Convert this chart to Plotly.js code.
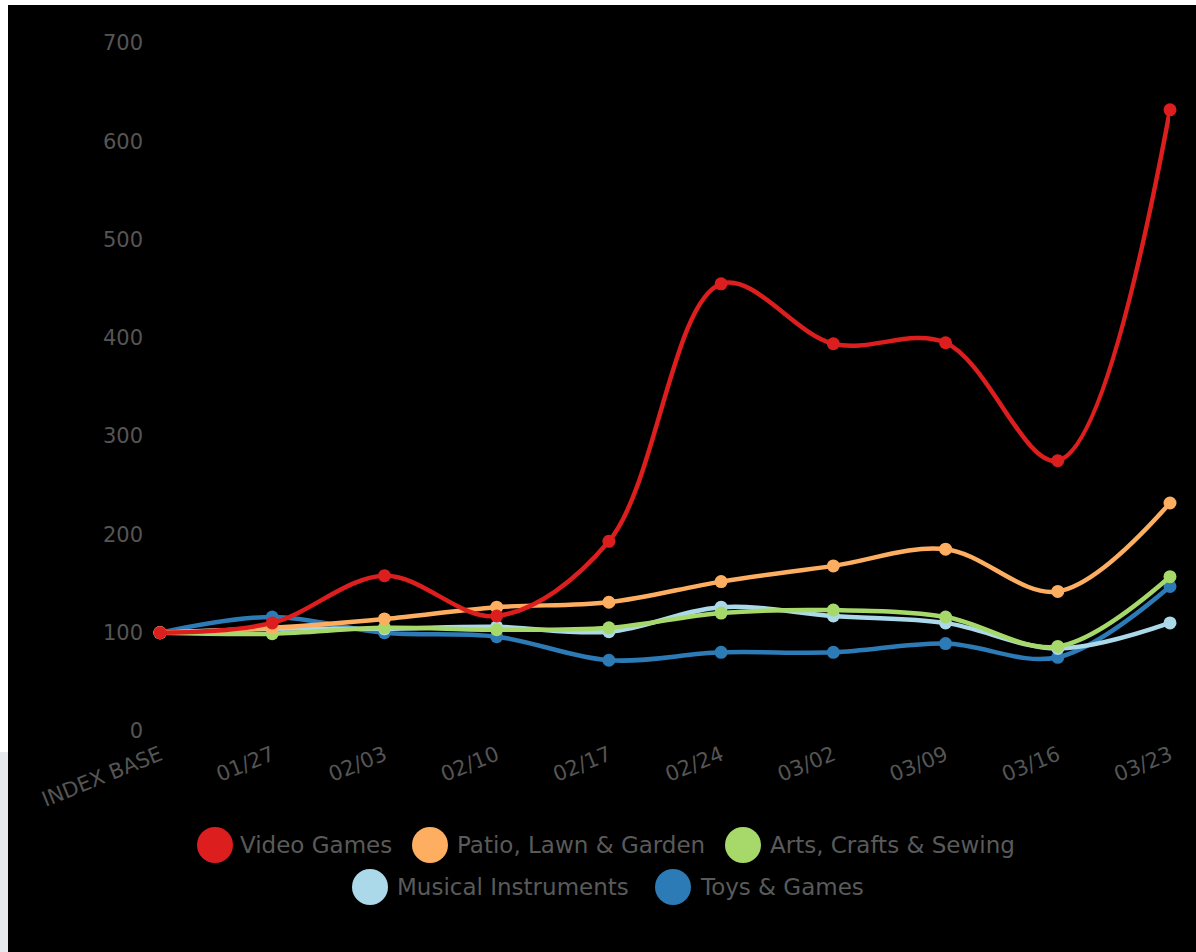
<!DOCTYPE html>
<html><head><meta charset="utf-8">
<script src="https://cdn.plot.ly/plotly-3.0.1.min.js"></script>
<style>html,body{margin:0;padding:0;background:#000;}#chart{width:1196px;height:952px;}</style>
</head><body><div id="chart"></div>
<script>
// ---- data ----
const categories = ["INDEX BASE","01/27","02/03","02/10","02/17","02/24","03/02","03/09","03/16","03/23"];
const videoGames = [100,110,158,117,193,455,394,395,275,632];
const patioLawnGarden = [100,105,114,126,131,152,168,185,142,232];
const artsCraftsSewing = [100,99,105,103,105,120,123,116,86,157];
const musicalInstruments = [100,104,104,106,101,126,117,110,84,110];
const toysGames = [100,116,100,96,72,80,80,89,75,147];
const seriesNames = ["Video Games","Patio, Lawn & Garden","Arts, Crafts & Sewing","Musical Instruments","Toys & Games"];
const yTickValues = [0,100,200,300,400,500,600,700];

// ---- styling ----
const colors = ["#dd1e1e","#fdae61","#a6d96a","#abd9e9","#2c7bb6"];
const W = 1196, H = 952;
const M = {l:160, r:26, t:43, b:221};
const plotW = W - M.l - M.r, plotH = H - M.t - M.b;
const px = x => (x - M.l) / plotW;
const py = y => (H - M.b - y) / plotH;

const seriesValues = [videoGames, patioLawnGarden, artsCraftsSewing, musicalInstruments, toysGames];
const drawOrder = [4,3,2,1,0];
const traces = drawOrder.map(i => ({
  type:'scatter', mode:'lines+markers', name: seriesNames[i],
  x: categories, y: seriesValues[i],
  line:{color:colors[i], width:4.5, shape:'spline', smoothing:1},
  marker:{color:colors[i], size:13},
  cliponaxis:false, showlegend:false
}));

// custom legend (large circle swatches)
const legendPos = [
  {cx:215, tx:238, y:845},
  {cx:430, tx:455, y:845},
  {cx:743, tx:768, y:845},
  {cx:370, tx:395, y:887},
  {cx:673, tx:698, y:887}
];
const shapes = [
  {type:'rect', xref:'paper', yref:'paper', x0:px(0), x1:px(8), y0:py(0), y1:py(752), fillcolor:'#ffffff', line:{width:0}, layer:'above'},
  {type:'rect', xref:'paper', yref:'paper', x0:px(0), x1:px(8), y0:py(752), y1:py(H), fillcolor:'#e8e8ef', line:{width:0}, layer:'above'},
  {type:'rect', xref:'paper', yref:'paper', x0:px(0), x1:px(W), y0:py(0), y1:py(5), fillcolor:'#ffffff', line:{width:0}, layer:'above'}
];
const annotations = [];
legendPos.forEach((p,i) => {
  shapes.push({type:'circle', xref:'paper', yref:'paper', xsizemode:'pixel', ysizemode:'pixel',
    xanchor:px(p.cx), yanchor:py(p.y), x0:-18, x1:18, y0:-18, y1:18,
    fillcolor:colors[i], line:{width:0}});
  annotations.push({xref:'paper', yref:'paper', x:px(p.tx), y:py(p.y), xanchor:'left', yanchor:'middle',
    text:seriesNames[i], showarrow:false, font:{family:'DejaVu Sans', size:23, color:'#5a5a5a'}});
});

const layout = {
  width:W, height:H, margin:M,
  paper_bgcolor:'#000', plot_bgcolor:'#000',
  showlegend:false,
  font:{family:'DejaVu Sans', color:'#555555'},
  xaxis:{type:'category', range:[0,9], showgrid:false, zeroline:false, showline:false, ticks:'',
    tickangle:-22, tickfont:{size:21, color:'#555555'}, ticklabelstandoff:7, fixedrange:true},
  yaxis:{range:[0,700], tickvals:yTickValues, showgrid:false, zeroline:false, showline:false, ticks:'',
    tickfont:{size:21, color:'#555555'}, ticklabelstandoff:16, fixedrange:true},
  shapes:shapes, annotations:annotations
};
Plotly.newPlot('chart', traces, layout, {displayModeBar:false, staticPlot:true});
</script></body></html>
